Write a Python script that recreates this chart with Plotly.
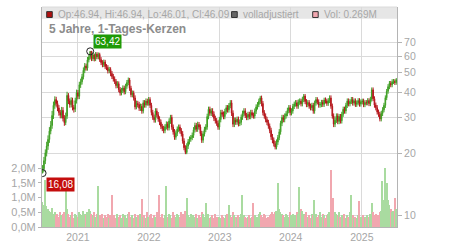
import numpy as np
import pandas as pd
import plotly.graph_objects as go

# ---------------- data (weekly) ----------------
start_date = "2020-07-03"
first_open = 16.08
closes = [
    16.9, 18.5, 20.2, 21.8, 23.5, 25.8, 27.5, 30.8, 34.5, 36.8,
    35.2, 33.5, 31.8, 30.9, 32.6, 29.8, 28.4, 30.5, 38.6, 36.2,
    34.8, 36.5, 33.7, 33.0, 36.4, 39.8, 38.2, 43.5, 45.0, 47.6,
    51.2, 53.8, 52.5, 57.6, 59.4, 63.42, 58.4, 60.9, 58.2, 61.5,
    59.6, 61.2, 57.8, 55.9, 54.6, 56.2, 53.4, 52.8, 50.9, 51.7,
    49.4, 47.8, 46.5, 45.2, 43.1, 44.0, 41.2, 39.7, 40.8, 41.9,
    40.2, 42.8, 44.6, 45.9, 41.8, 38.9, 39.6, 37.5, 33.9, 35.2,
    34.8, 33.4, 34.1, 32.4, 35.5, 34.6, 36.2, 35.4, 36.8, 34.5,
    31.8, 30.2, 29.3, 32.4, 31.0, 29.6, 28.5, 27.2, 26.6, 26.0,
    27.1, 27.9, 26.8, 28.9, 30.1, 27.0, 25.6, 24.1, 25.2, 26.4,
    27.0, 25.9, 25.0, 23.1, 21.4, 20.3, 21.8, 22.9, 23.6, 24.0,
    24.6, 26.2, 27.5, 26.4, 27.8, 27.0, 25.1, 23.3, 25.0, 26.3,
    27.0, 30.4, 33.0, 31.6, 32.4, 31.2, 29.8, 29.0, 28.2, 27.0,
    29.4, 31.8, 31.2, 30.4, 32.2, 33.6, 32.8, 34.4, 35.5, 31.6,
    27.9, 29.2, 28.6, 29.5, 28.1, 28.5, 30.2, 31.5, 32.4, 30.8,
    30.1, 31.2, 30.4, 31.8, 30.9, 30.6, 32.3, 33.9, 34.8, 36.1,
    37.5, 35.2, 31.8, 30.6, 29.4, 28.5, 27.3, 26.0, 24.2, 23.3,
    22.4, 21.6, 22.8, 24.0, 25.6, 28.2, 30.1, 29.4, 30.6, 31.4,
    32.6, 33.6, 31.8, 32.4, 34.1, 35.0, 35.5, 34.2, 35.8, 36.2,
    35.1, 36.9, 38.3, 36.0, 34.8, 35.6, 34.2, 33.6, 34.5, 32.4,
    35.4, 36.8, 35.9, 34.6, 34.8, 35.7, 34.9, 36.6, 36.2, 35.3,
    36.4, 37.5, 34.2, 30.6, 27.9, 29.2, 30.6, 28.8, 30.4, 29.0,
    31.2, 33.0, 32.4, 34.5, 36.2, 35.1, 36.0, 36.8, 35.4, 36.3,
    34.9, 35.5, 36.4, 35.0, 35.9, 36.2, 34.8, 35.6, 35.5, 36.4,
    35.2, 37.0, 41.1, 37.2, 34.6, 33.6, 32.0, 31.2, 29.6, 31.5,
    32.8, 34.5, 37.6, 40.4, 42.6, 44.2, 43.5, 45.0, 45.2, 44.6, 46.09,
]
highs = [
    17.6, 19.3, 21.0, 22.9, 24.6, 27.0, 28.9, 32.4, 36.0, 38.2,
    38.0, 36.4, 34.6, 32.8, 33.9, 33.8, 30.9, 31.8, 40.2, 39.6,
    37.3, 37.8, 37.6, 34.6, 37.6, 41.2, 41.0, 45.0, 46.6, 49.2,
    52.9, 55.6, 55.2, 59.5, 61.3, 63.42, 63.0, 62.6, 61.8, 62.9,
    62.8, 62.6, 62.4, 59.4, 57.4, 57.8, 57.6, 54.9, 54.3, 53.2,
    53.0, 50.8, 49.2, 47.8, 46.4, 45.3, 45.2, 42.4, 42.0, 43.2,
    43.1, 44.0, 45.9, 47.2, 47.0, 43.0, 40.8, 40.7, 38.6, 36.4,
    36.3, 35.9, 35.2, 35.1, 36.6, 36.6, 37.3, 37.2, 37.9, 37.8,
    35.5, 32.8, 31.1, 33.4, 33.4, 32.0, 30.5, 29.4, 28.0, 27.4,
    27.9, 28.8, 28.7, 29.8, 31.0, 31.0, 27.8, 26.4, 26.0, 27.2,
    27.8, 27.8, 26.7, 25.8, 23.8, 22.0, 22.5, 23.6, 24.3, 24.7,
    25.4, 27.0, 28.4, 28.3, 28.7, 28.6, 27.8, 25.9, 25.8, 27.1,
    27.9, 31.4, 34.0, 34.0, 33.4, 33.4, 32.2, 30.7, 29.9, 29.1,
    30.3, 32.8, 32.8, 32.2, 33.2, 34.6, 34.6, 35.4, 36.6, 36.6,
    32.6, 30.1, 30.1, 30.4, 30.4, 29.4, 31.1, 32.5, 33.4, 33.4,
    31.7, 32.1, 32.1, 32.8, 32.8, 31.8, 33.3, 34.9, 35.8, 37.2,
    38.4, 38.5, 36.2, 32.7, 31.5, 30.3, 29.3, 28.1, 26.8, 25.0,
    24.0, 23.1, 23.5, 24.7, 26.4, 29.0, 31.0, 31.0, 31.5, 32.3,
    33.6, 34.6, 34.6, 33.4, 35.1, 36.0, 36.6, 36.6, 36.9, 37.3,
    37.2, 38.0, 39.2, 39.2, 37.0, 36.6, 36.6, 35.2, 35.5, 35.5,
    36.4, 37.9, 37.8, 36.9, 35.8, 36.7, 36.7, 37.6, 37.7, 37.2,
    37.4, 38.6, 38.6, 35.2, 31.5, 30.1, 31.5, 31.5, 31.3, 31.3,
    32.1, 34.0, 34.0, 35.5, 37.3, 37.3, 37.0, 37.9, 37.9, 37.3,
    37.3, 36.5, 37.4, 37.4, 36.9, 37.2, 37.2, 36.6, 36.6, 37.4,
    37.4, 38.0, 42.2, 42.2, 38.2, 35.6, 34.6, 32.9, 32.1, 32.4,
    33.8, 35.5, 38.6, 41.5, 43.8, 45.4, 45.4, 46.3, 46.4, 46.3, 46.94,
]
lows = [
    16.08, 16.3, 17.8, 19.4, 20.9, 22.6, 24.9, 26.5, 29.6, 33.2,
    34.0, 32.3, 30.7, 29.8, 29.8, 28.8, 27.4, 27.6, 29.6, 35.0,
    33.6, 33.7, 32.6, 31.8, 32.0, 35.2, 37.0, 37.0, 42.0, 43.6,
    46.2, 49.6, 51.0, 51.0, 56.0, 57.8, 56.8, 56.9, 56.6, 56.8,
    58.0, 58.0, 56.3, 54.3, 53.0, 53.1, 51.9, 51.3, 49.4, 49.6,
    47.9, 46.4, 45.1, 43.9, 41.8, 41.9, 40.0, 38.5, 38.6, 39.6,
    39.0, 39.1, 41.6, 43.3, 40.6, 37.8, 37.8, 36.4, 32.9, 33.0,
    33.7, 32.4, 32.4, 31.4, 31.5, 33.6, 33.6, 34.4, 34.4, 33.5,
    30.8, 29.3, 28.4, 28.4, 30.1, 28.7, 27.6, 26.4, 25.8, 25.2,
    25.2, 26.3, 26.0, 26.0, 28.0, 26.2, 24.8, 23.4, 23.4, 24.4,
    25.6, 25.1, 24.3, 22.4, 20.8, 19.9, 19.9, 21.1, 22.2, 22.9,
    23.3, 23.9, 25.4, 25.6, 25.6, 26.2, 24.4, 22.6, 22.6, 24.3,
    25.5, 26.2, 29.5, 30.7, 30.6, 30.3, 28.9, 28.1, 27.4, 26.2,
    26.2, 28.5, 30.3, 29.5, 29.5, 31.2, 31.8, 31.8, 33.4, 30.6,
    27.0, 27.0, 27.7, 27.7, 27.2, 27.3, 27.6, 29.3, 30.5, 29.9,
    29.2, 29.2, 29.5, 29.5, 30.0, 29.7, 29.7, 31.3, 32.9, 33.8,
    35.0, 34.1, 30.8, 29.7, 28.5, 27.6, 26.5, 25.2, 23.4, 22.5,
    21.7, 21.0, 21.0, 22.1, 23.3, 24.8, 27.3, 28.5, 28.5, 29.7,
    30.5, 31.6, 30.8, 30.8, 31.4, 33.1, 34.0, 33.2, 33.2, 34.7,
    34.1, 34.1, 35.8, 35.0, 33.8, 33.8, 33.2, 32.6, 32.6, 31.4,
    31.4, 34.4, 34.9, 33.6, 33.6, 33.8, 33.9, 33.9, 35.2, 34.3,
    34.3, 35.4, 33.2, 29.7, 27.0, 27.0, 28.3, 27.9, 27.9, 28.1,
    28.1, 30.3, 31.4, 31.4, 33.5, 34.1, 34.1, 35.0, 34.4, 34.4,
    33.9, 33.9, 34.5, 34.0, 34.0, 34.9, 33.8, 33.8, 34.5, 34.5,
    34.2, 34.2, 36.0, 36.2, 33.6, 32.6, 31.1, 30.3, 28.8, 28.8,
    30.6, 31.9, 33.5, 36.6, 39.3, 41.4, 42.3, 42.3, 43.9, 43.4, 43.5,
]
volumes_m = [
    0.85, 0.75, 1.6, 0.7, 0.6, 0.55, 0.5, 0.65, 0.45, 0.5,
    0.4, 0.45, 0.35, 0.5, 0.4, 0.45, 0.5, 1.27, 0.6, 0.45,
    0.35, 0.4, 0.5, 0.3, 0.45, 0.4, 0.35, 0.5, 0.45, 0.4,
    0.55, 0.45, 0.4, 0.5, 0.6, 0.55, 0.45, 0.4, 0.5, 0.35,
    0.45, 1.38, 0.4, 0.35, 0.45, 0.3, 0.4, 0.35, 0.45, 0.3,
    0.4, 1.1, 0.35, 0.4, 0.3, 0.45, 0.35, 0.4, 0.3, 0.45,
    0.35, 0.4, 0.3, 0.45, 0.5, 0.35, 0.4, 0.3, 0.45, 0.35,
    0.4, 0.3, 0.45, 0.95, 0.35, 0.4, 0.3, 0.5, 0.35, 0.4,
    0.45, 0.3, 0.4, 0.35, 0.5, 0.4, 1.1, 0.35, 0.45, 0.3,
    0.4, 1.38, 0.35, 0.45, 0.4, 0.3, 0.5, 0.4, 0.35, 0.45,
    0.4, 0.35, 0.5, 0.45, 0.4, 0.55, 1.0, 0.4, 0.35, 0.45,
    0.3, 0.4, 0.35, 0.45, 0.3, 0.4, 0.35, 0.5, 0.45, 0.35,
    0.8, 0.4, 0.45, 0.3, 0.35, 0.4, 0.3, 0.45, 0.35, 0.3,
    0.35, 0.3, 0.4, 0.35, 0.3, 0.4, 0.45, 0.73, 0.4, 0.35,
    0.5, 0.4, 0.35, 0.3, 0.4, 0.35, 0.45, 1.07, 0.4, 0.35,
    0.3, 0.35, 0.4, 0.3, 0.35, 0.8, 0.4, 0.3, 0.35, 0.45,
    0.5, 0.4, 0.35, 0.45, 0.4, 0.3, 0.35, 0.4, 0.45, 0.5,
    0.45, 0.5, 0.55, 1.5, 0.6, 0.5, 0.45, 0.4, 0.35, 0.45,
    0.4, 0.35, 0.5, 0.4, 0.45, 0.35, 0.4, 0.5, 0.45, 1.34,
    0.6, 0.55, 0.45, 0.4, 0.5, 0.35, 0.4, 0.3, 0.45, 0.4,
    0.9, 0.45, 0.35, 0.4, 0.5, 0.35, 0.45, 0.4, 0.3, 0.4,
    0.45, 0.5, 1.93, 0.6, 0.97, 0.5, 0.45, 0.4, 0.5, 0.35,
    0.4, 0.35, 0.45, 0.3, 0.4, 0.35, 0.5, 1.07, 0.4, 0.3,
    0.35, 0.3, 0.4, 0.87, 0.35, 0.3, 0.4, 0.35, 0.3, 0.4,
    0.35, 0.45, 0.8, 0.5, 0.4, 0.45, 0.35, 0.4, 0.5, 0.55,
    1.57, 0.9, 2.0, 1.5, 0.9, 0.75, 0.6, 0.5, 0.55, 1.0, 0.6,
]
price_ticks = [10, 20, 30, 40, 50, 60, 70]
vol_ticks = [0, 0.5, 1.0, 1.5, 2.0]
vol_tick_text = ["0,0M", "0,5M", "1,0M", "1,5M", "2,0M"]
year_ticks = ["2021-01-01", "2022-01-01", "2023-01-01", "2024-01-01", "2025-01-01"]
title_text = "5 Jahre, 1-Tages-Kerzen"
header_ohlc = "Op:46.94, Hi:46.94, Lo:46.01, Cl:46.09"
header_adj = "volladjustiert"
header_vol = "Vol: 0.269M"

# ---------------- derived ----------------
dates = pd.date_range(start_date, periods=len(closes), freq="7D")
opens = [first_open] + closes[:-1]
i_hi = int(np.argmax(highs))
i_lo = int(np.argmin(lows))
hi_val, lo_val = highs[i_hi], lows[i_lo]

GREEN = "#3f9f24"
RED = "#b5161b"
VOL_UP = "#a9dba0"
VOL_DN = "#f1a7af"
vol_colors = [VOL_UP if c >= o else VOL_DN for o, c in zip(opens, closes)]

GRID = "#dadada"
LINE = "#b4b4b4"
TXT = "#a6a6a6"
FONT = "Liberation Sans, Arial, sans-serif"

fig = go.Figure()
fig.add_trace(go.Bar(
    x=dates, y=[v * 1e6 for v in volumes_m], marker=dict(color=vol_colors, line=dict(width=0)),
    yaxis="y", showlegend=False, hoverinfo="skip",
))
fig.add_trace(go.Candlestick(
    x=dates, open=opens, high=highs, low=lows, close=closes, yaxis="y2",
    increasing=dict(line=dict(color=GREEN, width=1), fillcolor=GREEN),
    decreasing=dict(line=dict(color=RED, width=1), fillcolor=RED),
    whiskerwidth=0, showlegend=False,
))
fig.add_trace(go.Scatter(
    x=[dates[i_hi], dates[i_lo]], y=[hi_val, lo_val], mode="markers", yaxis="y2",
    marker=dict(symbol="circle-open", size=7, color="#222", line=dict(width=1)),
    showlegend=False, hoverinfo="skip",
))

def fmt(v):
    return f"{v:.2f}".replace(".", ",")

annotations = [
    dict(x=dates[i_hi], y=np.log10(hi_val), xref="x", yref="y2", text=fmt(hi_val),
         showarrow=False, xanchor="left", yanchor="bottom", xshift=3, yshift=2,
         bgcolor="#1f9a06", font=dict(color="white", size=10, family=FONT), borderpad=1),
    dict(x=dates[i_lo], y=np.log10(lo_val), xref="x", yref="y2", text=fmt(lo_val),
         showarrow=False, xanchor="left", yanchor="top", xshift=3, yshift=-4,
         bgcolor="#c40d0d", font=dict(color="white", size=10, family=FONT), borderpad=1),
    dict(x=0.0141, y=0.898, xref="paper", yref="paper", text=f"<b>{title_text}</b>",
         showarrow=False, xanchor="left", yanchor="middle",
         font=dict(color="#8c8c8c", size=12, family=FONT)),
    dict(x=0.0394, y=0.967, xref="paper", yref="paper", text=header_ohlc,
         showarrow=False, xanchor="left", yanchor="middle",
         font=dict(color=TXT, size=10, family=FONT)),
    dict(x=0.5606, y=0.967, xref="paper", yref="paper", text=header_adj,
         showarrow=False, xanchor="left", yanchor="middle",
         font=dict(color=TXT, size=10, family=FONT)),
    dict(x=0.7887, y=0.967, xref="paper", yref="paper", text=header_vol,
         showarrow=False, xanchor="left", yanchor="middle",
         font=dict(color=TXT, size=10, family=FONT)),
]

shapes = [
    dict(type="rect", xref="paper", yref="paper", x0=0, x1=1, y0=0.9467, y1=1,
         fillcolor="#e6e6e6", line=dict(width=0), layer="below"),
    dict(type="line", xref="paper", yref="paper", x0=0, x1=1, y0=1, y1=1,
         line=dict(color=GRID, width=1)),
    dict(type="rect", xref="paper", yref="paper", x0=0.0132, x1=0.029, y0=0.9524, y1=0.979,
         fillcolor="#b01010", line=dict(color="#333", width=1)),
    dict(type="rect", xref="paper", yref="paper", x0=0.534, x1=0.550, y0=0.9524, y1=0.979,
         fillcolor="#666666", line=dict(color="#333", width=1)),
    dict(type="rect", xref="paper", yref="paper", x0=0.7625, x1=0.778, y0=0.9524, y1=0.979,
         fillcolor="#f1a7af", line=dict(color="#333", width=1)),
]

fig.update_layout(
    width=450, height=250,
    margin=dict(l=42, r=53, t=7, b=18),
    paper_bgcolor="white", plot_bgcolor="white",
    font=dict(family=FONT, color=TXT),
    bargap=0, showlegend=False,
    xaxis=dict(
        type="date", range=["2020-06-30", "2025-07-01"],
        tickvals=year_ticks, tickformat="%Y",
        showgrid=True, gridcolor=GRID, gridwidth=1,
        showline=True, linecolor=LINE, ticks="",
        tickfont=dict(size=10.5, color=TXT, family=FONT),
        rangeslider=dict(visible=False), zeroline=False,
    ),
    yaxis=dict(
        range=[0, 7.46e6], side="left",
        tickvals=[v * 1e6 for v in vol_ticks], ticktext=vol_tick_text,
        showgrid=False, zeroline=False,
        showline=True, linecolor=LINE, ticks="outside", ticklen=3, tickcolor=LINE,
        tickfont=dict(size=11, color=TXT, family=FONT),
    ),
    yaxis2=dict(
        type="log", range=[np.log10(8.76), np.log10(104.5)],
        overlaying="y", side="right",
        tickvals=price_ticks, ticktext=[str(v) for v in price_ticks],
        showgrid=True, gridcolor=GRID, gridwidth=1, zeroline=False,
        showline=True, linecolor=LINE, ticks="outside", ticklen=4, tickcolor=LINE,
        tickfont=dict(size=10.5, color=TXT, family=FONT),
    ),
    annotations=annotations, shapes=shapes,
)

fig.write_html("out.html")
